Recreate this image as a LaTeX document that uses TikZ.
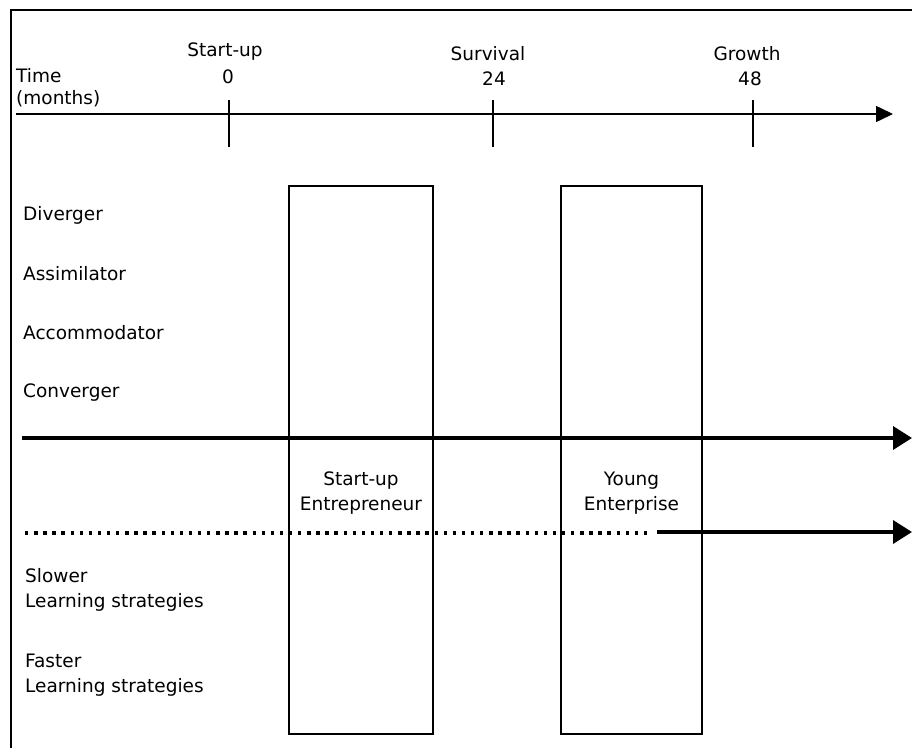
\documentclass[tikz,border=0pt]{standalone}
\usepackage{fontspec}
\setmainfont{DejaVu Sans}
\usetikzlibrary{arrows.meta}

\begin{document}
\begin{tikzpicture}[x=1pt,y=-1pt,
  lbl/.style={inner sep=0pt, font=\fontsize{18.5}{22}\selectfont, anchor=base west},
  clbl/.style={inner sep=0pt, font=\fontsize{18.5}{22}\selectfont, anchor=base},
  stagebox/.style={draw, line width=1.4pt, rectangle, inner sep=0pt},
  tick/.style={line width=1.6pt},
  axis/.style={line width=1.5pt, -{Triangle[length=17pt,width=16pt]}},
  bigarrow/.style={line width=3.5pt, -{Triangle[length=19pt,width=23pt]}},
  slowline/.style={line width=3.2pt, dash pattern=on 3.4pt off 5.7pt}
]
\useasboundingbox (0,0) rectangle (912,747);
\clip (0,0) rectangle (912,747);

% outer frame (runs off the page on the right and at the bottom)
\draw[line width=1.8pt] (11,760) -- (11,10) -- (925,10);

% time axis
\coordinate (axisStart) at (16,114);
\coordinate (axisEnd) at (893,114);
\draw[axis] (axisStart) -- (axisEnd);

\coordinate (t0a) at (229,100);  \coordinate (t0b) at (229,147);
\coordinate (t24a) at (493,100); \coordinate (t24b) at (493,147);
\coordinate (t48a) at (753,100); \coordinate (t48b) at (753,147);
\draw[tick] (t0a) -- (t0b);
\draw[tick] (t24a) -- (t24b);
\draw[tick] (t48a) -- (t48b);

\node[lbl] (time) at (16,82) {Time};
\node[lbl] (months) at (16,104) {(months)};
\node[clbl] (startup) at (225,56) {Start-up};
\node[clbl] (m0) at (228,83) {0};
\node[clbl] (survival) at (488,60) {Survival};
\node[clbl] (m24) at (494,85) {24};
\node[clbl] (growth) at (747,60) {Growth};
\node[clbl] (m48) at (750,85) {48};

% stage boxes
\node[stagebox, minimum width=144pt, minimum height=548pt] (box1) at (361,460) {};
\node[stagebox, minimum width=141pt, minimum height=548pt] (box2) at (631.5,460) {};

\node[clbl] (entA) at (361,485) {Start-up};
\node[clbl] (entB) at (361,510) {Entrepreneur};
\node[clbl] (ypA) at (631.5,485) {Young};
\node[clbl] (ypB) at (631.5,510) {Enterprise};

% learning styles
\node[lbl] (div) at (23,220) {Diverger};
\node[lbl] (ass) at (23,280) {Assimilator};
\node[lbl] (acc) at (23,339) {Accommodator};
\node[lbl] (con) at (23,397) {Converger};

% thick arrow
\coordinate (fastStart) at (22,438);
\coordinate (fastEnd) at (912,438);
\draw[bigarrow] (fastStart) -- (fastEnd);

% dotted then solid arrow
\coordinate (slowStart) at (25,533);
\coordinate (slowMid) at (648,533);
\coordinate (solidStart) at (657,532);
\coordinate (solidEnd) at (912,532);
\draw[slowline] (slowStart) -- (slowMid);
\draw[bigarrow] (solidStart) -- (solidEnd);

% learning strategies
\node[lbl] (slow) at (25,582) {Slower};
\node[lbl] (slowB) at (25,607) {Learning strategies};
\node[lbl] (fast) at (25,667) {Faster};
\node[lbl] (fastB) at (25,692) {Learning strategies};
\end{tikzpicture}
\end{document}
